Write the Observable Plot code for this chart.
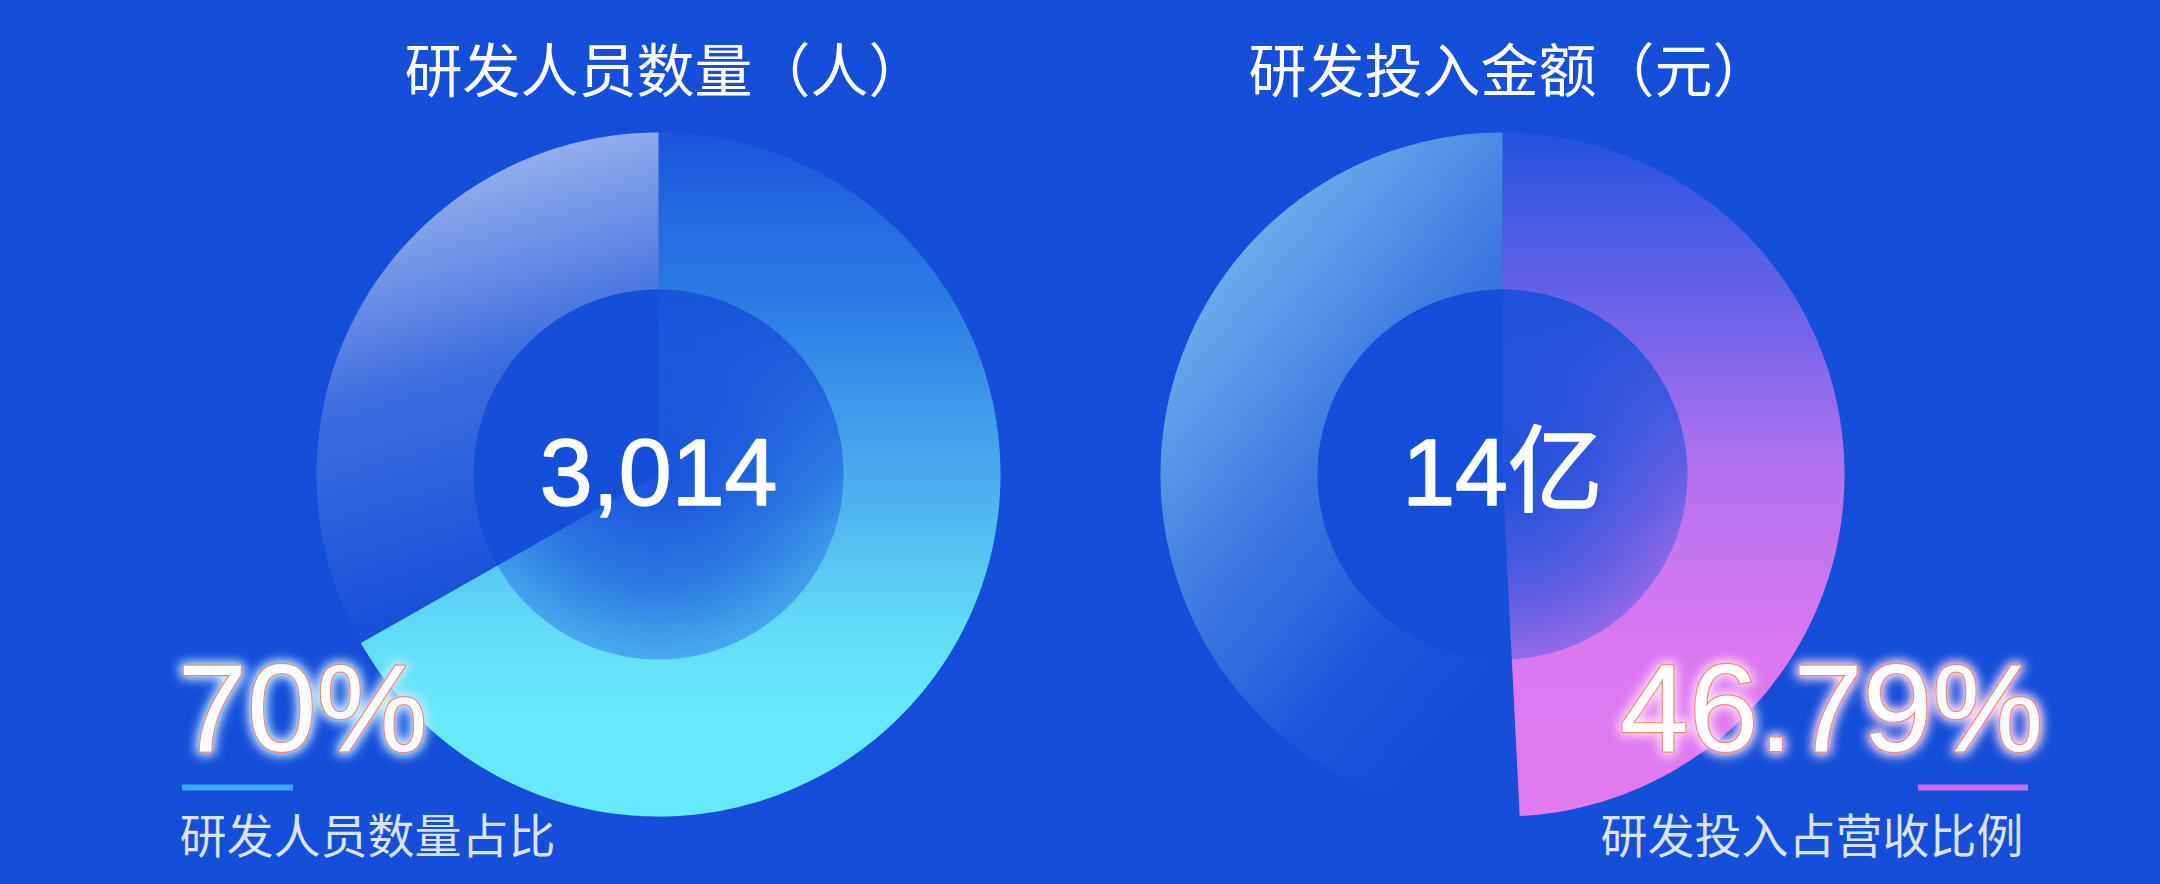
<!DOCTYPE html>
<html><head><meta charset="utf-8">
<script src="https://cdn.jsdelivr.net/npm/d3@7"></script>
<script src="https://cdn.jsdelivr.net/npm/@observablehq/plot@0.6"></script>
<style>
html,body{margin:0;padding:0;background:#154ed9;}
#charts{display:flex;width:2160px;height:884px;overflow:hidden;}
#charts svg{flex:none;}
</style></head><body><div id="charts"></div>
<script>
// ---- data ----
const titles = ["研发人员数量（人）", "研发投入金额（元）"];
const centerLabels = ["3,014", "14亿"];
const shareLabels = ["70%", "46.79%"];
const captions = ["研发人员数量占比", "研发投入占营收比例"];
const ringShares = [0.668, 0.492]; // filled part of each ring, as drawn

// ---- styles ----
const BG = "#154ed9";
const INNER = 0.541; // hole radius relative to outer radius
const styles = [
  {
    side: "left",
    value: [[0, "#1a55dc"], [0.25, "#2d7ce6"], [0.5, "#4aaaef"], [0.72, "#62daf8"], [0.85, "#68e8fb"], [1, "#68e8fb"]],
    restColor: "#ffffff", rest: [[0, 0.7], [0.55, 0.16], [1, 0.0]], restDir: [0, 0, 0.2, 1],
    accent: "#3fa9f5", glow: "#c8ecff"
  },
  {
    side: "right",
    value: [[0, "#2252de"], [0.25, "#6a62ea"], [0.5, "#b472f0"], [0.75, "#da78f2"], [1, "#e37bf2"]],
    restColor: "#8fcff5", rest: [[0, 0.95], [0.45, 0.42], [0.8, 0.07], [1, 0]], restDir: [0, 0.05, 0.6, 1],
    accent: "#c56ff2", glow: "#ffd8f2"
  }
];

function arcPts(a0, a1, r) {
  const n = Math.max(2, Math.ceil(Math.abs(a1 - a0) * 180 / Math.PI));
  return d3.range(n + 1).map(k => {
    const a = a0 + (a1 - a0) * k / n;
    return {x: r * Math.sin(a), y: r * Math.cos(a)};
  });
}

const container = document.getElementById("charts");

titles.forEach((title, i) => {
  const st = styles[i];
  const end = ringShares[i] * 2 * Math.PI;
  const wedge = [{x: 0, y: 0}, ...arcPts(0, end, 1), {x: 0, y: 0}];
  const hole = arcPts(0, 2 * Math.PI, INNER);
  const rest = [...arcPts(end, 2 * Math.PI, 1), ...arcPts(2 * Math.PI, end, INNER)];
  const left = st.side === "left";
  const anchorFrame = left ? "bottom-left" : "bottom-right";
  const tAnchor = left ? "start" : "end";
  const numFont = "Liberation Sans, Arial, Noto Sans CJK SC, sans-serif";
  const cjkFont = "Noto Sans CJK SC, sans-serif";
  const shareOpts = {text: d => d, frameAnchor: anchorFrame, textAnchor: tAnchor,
    lineAnchor: "bottom", dx: left ? -139 : 199, dy: -66, fontSize: 125, fontFamily: numFont};

  const svg = Plot.plot({
    width: 1080, height: 884,
    marginLeft: left ? 316 : 80, marginRight: left ? 80 : 316,
    marginTop: 132, marginBottom: 68,
    style: {background: BG, overflow: "visible"},
    x: {domain: [-1, 1], axis: null},
    y: {domain: [-1, 1], axis: null},
    marks: [
      Plot.line(wedge, {x: "x", y: "y", fill: `url(#val${i})`, stroke: "none", curve: "linear"}),
      Plot.line(hole, {x: "x", y: "y", fill: `url(#hole${i})`, stroke: "none", curve: "linear"}),
      Plot.line(hole, {x: "x", y: "y", fill: `url(#holeTop${i})`, stroke: "none", curve: "linear"}),
      Plot.line(rest, {x: "x", y: "y", fill: `url(#rest${i})`, stroke: "none", curve: "linear"}),
      Plot.text([title], {text: d => d, frameAnchor: "top", lineAnchor: "bottom", dx: 7, dy: -41,
        fontSize: 58, fontFamily: cjkFont, fill: "white"}),
      Plot.text([centerLabels[i]], {text: d => d, x: 0, y: 0, lineAnchor: "middle",
        fontSize: 95, fontFamily: numFont, fill: "white", stroke: "white", strokeWidth: 1.6}),
      Plot.text([shareLabels[i]], {...shareOpts, fill: st.glow, stroke: st.glow, strokeWidth: 7}),
      Plot.text([shareLabels[i]], {...shareOpts, fill: "white", stroke: "#f08878", strokeWidth: 2.4}),
      Plot.ruleY([-0.915], {x1: left ? -1.392 : 1.216, x2: left ? -1.067 : 1.538,
        stroke: st.accent, strokeWidth: 6}),
      Plot.text([captions[i]], {text: d => d, frameAnchor: anchorFrame, textAnchor: tAnchor,
        lineAnchor: "bottom", dx: left ? -137 : 179, dy: 36, fontSize: 47, fontFamily: cjkFont,
        fill: "white", fillOpacity: 0.85})
    ]
  });

  const stopsHtml = arr => arr.map(([o, c]) => `<stop offset="${o}" stop-color="${c}"/>`).join("");
  const restStops = st.rest.map(([o, a]) => `<stop offset="${o}" stop-color="${st.restColor}" stop-opacity="${a}"/>`).join("");
  const [rx1, ry1, rx2, ry2] = st.restDir;
  const defs = document.createElementNS("http://www.w3.org/2000/svg", "defs");
  defs.innerHTML = `
    <linearGradient id="val${i}" x1="0" y1="0" x2="0" y2="1">${stopsHtml(st.value)}</linearGradient>
    <radialGradient id="hole${i}" cx="0.5" cy="0.5" r="0.5">
      <stop offset="0" stop-color="${BG}" stop-opacity="0.92"/>
      <stop offset="0.5" stop-color="${BG}" stop-opacity="0.72"/>
      <stop offset="1" stop-color="${BG}" stop-opacity="0.36"/>
    </radialGradient>
    <linearGradient id="holeTop${i}" x1="0" y1="0" x2="0" y2="1">
      <stop offset="0" stop-color="${BG}" stop-opacity="0.8"/>
      <stop offset="0.45" stop-color="${BG}" stop-opacity="0.25"/>
      <stop offset="0.65" stop-color="${BG}" stop-opacity="0"/>
    </linearGradient>
    <linearGradient id="rest${i}" x1="${rx1}" y1="${ry1}" x2="${rx2}" y2="${ry2}">${restStops}</linearGradient>
    <filter id="glow${i}" x="-30%" y="-60%" width="160%" height="220%">
      <feGaussianBlur stdDeviation="5.5"/>
      <feComponentTransfer><feFuncA type="linear" slope="1.15"/></feComponentTransfer>
    </filter>`;
  svg.insertBefore(defs, svg.firstChild);
  const g = svg.querySelector('g[stroke-width="7"]');
  if (g) g.setAttribute("filter", `url(#glow${i})`);
  container.appendChild(svg);
});
</script>
</body></html>
